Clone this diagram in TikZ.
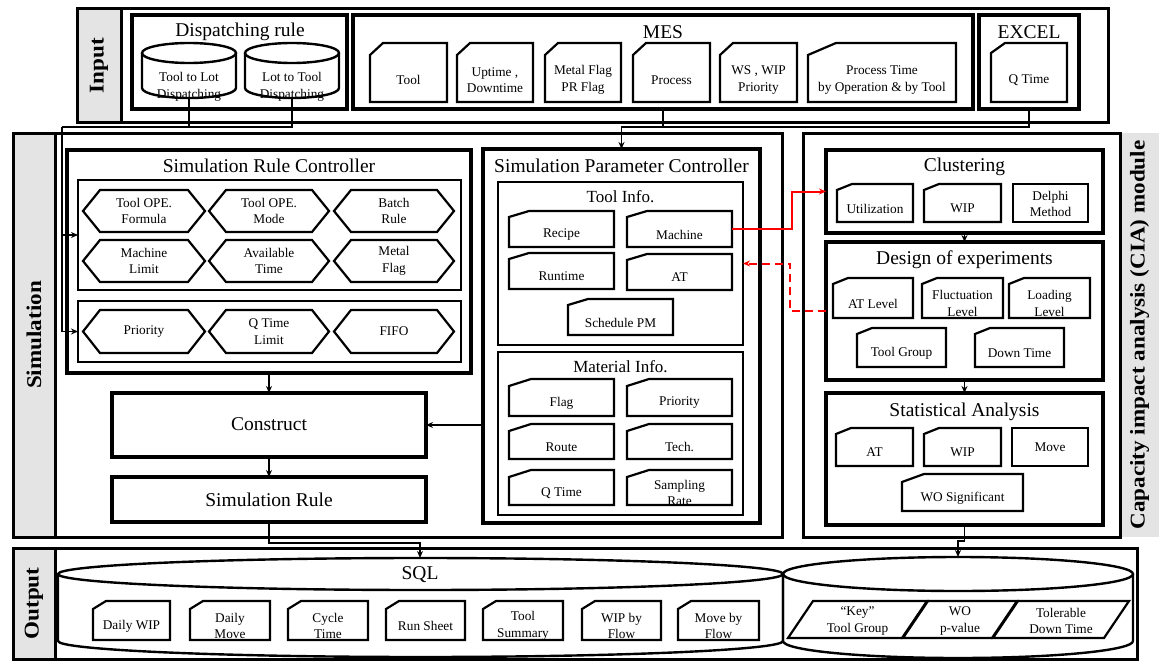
\documentclass[tikz,border=0pt]{standalone}
\usepackage{fontspec}
\setmainfont{Liberation Serif}
\usetikzlibrary{fit,arrows.meta,calc}
\definecolor{labgray}{HTML}{E4E4E4}
\definecolor{diagred}{HTML}{FF0000}
\makeatletter
\pgfkeys{/pgf/cardcutx/.initial=10pt, /pgf/cardcuty/.initial=6pt,
  /pgf/hexdepth/.initial=17pt, /pgf/paraslant/.initial=25pt}
\def\myrectanchors{%
  \inheritsavedanchors[from=rectangle]%
  \inheritanchorborder[from=rectangle]%
  \inheritanchor[from=rectangle]{center}%
  \inheritanchor[from=rectangle]{text}%
  \inheritanchor[from=rectangle]{base}%
  \inheritanchor[from=rectangle]{mid}%
  \inheritanchor[from=rectangle]{north}%
  \inheritanchor[from=rectangle]{south}%
  \inheritanchor[from=rectangle]{east}%
  \inheritanchor[from=rectangle]{west}%
  \inheritanchor[from=rectangle]{north east}%
  \inheritanchor[from=rectangle]{north west}%
  \inheritanchor[from=rectangle]{south east}%
  \inheritanchor[from=rectangle]{south west}}
\pgfdeclareshape{cardshape}{%
  \myrectanchors
  \backgroundpath{%
    \pgfmathsetlength\pgfutil@tempdima{\pgfkeysvalueof{/pgf/cardcutx}}%
    \pgfmathsetlength\pgfutil@tempdimb{\pgfkeysvalueof{/pgf/cardcuty}}%
    \southwest \pgf@xa=\pgf@x \pgf@ya=\pgf@y
    \northeast \pgf@xb=\pgf@x \pgf@yb=\pgf@y
    \pgf@xc=\pgf@xa \advance\pgf@xc by \pgfutil@tempdima
    \pgf@yc=\pgf@yb \advance\pgf@yc by -\pgfutil@tempdimb
    \pgfpathmoveto{\pgfqpoint{\pgf@xa}{\pgf@yc}}%
    \pgfpathlineto{\pgfqpoint{\pgf@xc}{\pgf@yb}}%
    \pgfpathlineto{\pgfqpoint{\pgf@xb}{\pgf@yb}}%
    \pgfpathlineto{\pgfqpoint{\pgf@xb}{\pgf@ya}}%
    \pgfpathlineto{\pgfqpoint{\pgf@xa}{\pgf@ya}}%
    \pgfpathclose}}
\pgfdeclareshape{hexshape}{%
  \myrectanchors
  \backgroundpath{%
    \pgfmathsetlength\pgfutil@tempdima{\pgfkeysvalueof{/pgf/hexdepth}}%
    \southwest \pgf@xa=\pgf@x \pgf@ya=\pgf@y
    \northeast \pgf@xb=\pgf@x \pgf@yb=\pgf@y
    \pgf@xc=\pgf@xa \advance\pgf@xc by \pgfutil@tempdima
    \pgfutil@tempdimb=\pgf@xb \advance\pgfutil@tempdimb by -\pgfutil@tempdima
    \pgf@yc=\pgf@ya \advance\pgf@yc by \pgf@yb \divide\pgf@yc by 2
    \pgfpathmoveto{\pgfqpoint{\pgf@xa}{\pgf@yc}}%
    \pgfpathlineto{\pgfqpoint{\pgf@xc}{\pgf@yb}}%
    \pgfpathlineto{\pgfqpoint{\pgfutil@tempdimb}{\pgf@yb}}%
    \pgfpathlineto{\pgfqpoint{\pgf@xb}{\pgf@yc}}%
    \pgfpathlineto{\pgfqpoint{\pgfutil@tempdimb}{\pgf@ya}}%
    \pgfpathlineto{\pgfqpoint{\pgf@xc}{\pgf@ya}}%
    \pgfpathclose}}
\pgfdeclareshape{parashape}{%
  \myrectanchors
  \backgroundpath{%
    \pgfmathsetlength\pgfutil@tempdima{\pgfkeysvalueof{/pgf/paraslant}}%
    \southwest \pgf@xa=\pgf@x \pgf@ya=\pgf@y
    \northeast \pgf@xb=\pgf@x \pgf@yb=\pgf@y
    \pgf@xc=\pgf@xa \advance\pgf@xc by \pgfutil@tempdima
    \pgfutil@tempdimb=\pgf@xb \advance\pgfutil@tempdimb by -\pgfutil@tempdima
    \pgfpathmoveto{\pgfqpoint{\pgf@xa}{\pgf@ya}}%
    \pgfpathlineto{\pgfqpoint{\pgf@xc}{\pgf@yb}}%
    \pgfpathlineto{\pgfqpoint{\pgf@xb}{\pgf@yb}}%
    \pgfpathlineto{\pgfqpoint{\pgfutil@tempdimb}{\pgf@ya}}%
    \pgfpathclose}}
\makeatother
\newcommand{\dbcyl}[3]{%
  \draw[cylline] ([yshift=-#3pt]#1.north west) -- ([yshift=#3pt]#1.south west)
    arc[start angle=180,end angle=0,x radius=#2,y radius=#3] -- ([yshift=-#3pt]#1.north east);
  \draw[cylline] ([yshift=-#3pt]#1.north) ellipse[x radius=#2,y radius=#3];}
\begin{document}
\begin{tikzpicture}[x=1pt,y=-1pt,
  base/.style={inner sep=0pt, outer sep=0pt},
  frame/.style={base, draw, line width=3pt},
  graylab/.style={base, draw, line width=3pt, fill=labgray},
  vlab/.style={rotate=90, xscale=1.1, font=\fontsize{21}{22}\selectfont\bfseries},
  grp/.style={base, draw, line width=3.5pt},
  inbox/.style={base, draw, line width=2.2pt},
  title/.style={base, font=\fontsize{19.5}{21}\selectfont},
  subtitle/.style={base, font=\fontsize{17}{19}\selectfont},
  bigtxt/.style={font=\fontsize{19.5}{21}\selectfont},
  txt/.style={font=\fontsize{13.3}{16.5}\selectfont, align=center},
  card/.style 2 args={base, draw, line width=2.2pt, shape=cardshape, cardcutx=#1, cardcuty=#2},
  cardlbl/.style={txt, yshift=-5.5pt},
  inlbl/.style={txt, yshift=-7.5pt},
  hexa/.style={base, draw, line width=2.2pt, shape=hexshape, hexdepth=17pt},
  plain/.style={base, draw, line width=2.2pt},
  para/.style={base, draw, line width=2.2pt, shape=parashape, paraslant=25pt},
  cylline/.style={line width=2.4pt},
  conn/.style={line width=1.4pt},
  arr/.style={-{Stealth[length=7pt,width=6pt]}},
  redl/.style={line width=2pt, draw=diagred},
  reddash/.style={redl, dash pattern=on 8pt off 5pt}
]
\useasboundingbox (0,0) rectangle (1161,661);

% ---------------- Input ----------------
\node[graylab, fit={(77,9)(121,122)}, label={[vlab]center:{Input}}] (inlab) {};
\node[frame, fit={(77,9)(1108,122)}] (inframe) {};

\node[grp, fit={(132,15)(347,109)}] (disp) {};
\node[title] (disptitle) at (240,32) {Dispatching rule};
\node[base, fit={(142,43)(236,98)}, label={[txt,yshift=-16.5pt]center:{Tool to Lot\\Dispatching}}] (cyl1) {};
\dbcyl{cyl1}{47}{10}
\node[base, fit={(245,43)(339,98)}, label={[txt,yshift=-16.5pt]center:{Lot to Tool\\Dispatching}}] (cyl2) {};
\dbcyl{cyl2}{47}{10}

\node[grp, fit={(353,15)(973,109)}] (mes) {};
\node[title] (mestitle) at (663,32) {MES};
\node[card={13pt}{12pt}, fit={(370,43)(447,102)}, label={[inlbl]center:{Tool}}] (itool) {};
\node[card={13pt}{12pt}, fit={(457,43)(533,102)}, label={[inlbl]center:{Uptime ,\\Downtime}}] (iup) {};
\node[card={13pt}{12pt}, fit={(545,43)(621,102)}, label={[inlbl]center:{Metal Flag\\PR Flag}}] (imetal) {};
\node[card={13pt}{12pt}, fit={(633,43)(710,102)}, label={[inlbl]center:{Process}}] (iproc) {};
\node[card={13pt}{12pt}, fit={(720,43)(797,102)}, label={[inlbl]center:{WS , WIP\\Priority}}] (iws) {};
\node[card={28pt}{12pt}, fit={(808,43)(956,102)}, label={[inlbl]center:{Process Time\\by Operation \& by Tool}}] (iptime) {};

\node[grp, fit={(979,15)(1079,109)}] (excel) {};
\node[title] (exceltitle) at (1029,32) {EXCEL};
\node[card={14pt}{10pt}, fit={(991,43)(1067,102)}, label={[inlbl]center:{Q Time}}] (iqtime) {};

% ---------------- Simulation ----------------
\node[graylab, fit={(13,133)(55,537)}, label={[vlab]center:{Simulation}}] (simlab) {};
\node[frame, fit={(13,133)(782,537)}] (simframe) {};

\node[grp, fit={(67,150)(471,373)}] (src) {};
\node[title] (srctitle) at (269,166) {Simulation Rule Controller};
\node[inbox, fit={(78,180)(461,290)}] (srcA) {};
\node[inbox, fit={(78,301)(461,362)}] (srcB) {};
\node[hexa, fit={(83,190)(205,232)}, label={[txt]center:{Tool OPE.\\Formula}}] (h1) {};
\node[hexa, fit={(209,190)(329,232)}, label={[txt]center:{Tool OPE.\\Mode}}] (h2) {};
\node[hexa, fit={(334,190)(454,232)}, label={[txt]center:{Batch\\Rule}}] (h3) {};
\node[hexa, fit={(83,240)(205,282)}, label={[txt]center:{Machine\\Limit}}] (h4) {};
\node[hexa, fit={(209,240)(329,282)}, label={[txt]center:{Available\\Time}}] (h5) {};
\node[hexa, fit={(334,240)(454,282)}, label={[txt]center:{Metal\\Flag}}] (h6) {};
\node[hexa, fit={(83,310)(205,353)}, label={[txt]center:{Priority}}] (h7) {};
\node[hexa, fit={(209,310)(329,353)}, label={[txt]center:{Q Time\\Limit}}] (h8) {};
\node[hexa, fit={(334,310)(454,353)}, label={[txt]center:{FIFO}}] (h9) {};

\node[grp, fit={(112,393)(426,457)}, label={[bigtxt,yshift=1pt]center:{Construct}}] (construct) {};
\node[grp, fit={(112,477)(426,522)}, label={[bigtxt]center:{Simulation Rule}}] (simrule) {};

\node[grp, fit={(483,149)(760,523)}] (spc) {};
\node[title] (spctitle) at (621.5,166) {Simulation Parameter Controller};
\node[inbox, fit={(498,182)(743,345)}] (toolinfo) {};
\node[subtitle] (toolinfotitle) at (620.5,197) {Tool Info.};
\node[card={20pt}{6pt}, fit={(509,211)(614,247)}, label={[cardlbl]center:{Recipe}}] (recipe) {};
\node[card={20pt}{6pt}, fit={(627,211)(732,247)}, label={[cardlbl]center:{Machine}}] (machine) {};
\node[card={20pt}{6pt}, fit={(509,253)(614,289)}, label={[cardlbl]center:{Runtime}}] (runtime) {};
\node[card={20pt}{6pt}, fit={(627,254)(732,290)}, label={[cardlbl]center:{AT}}] (atool) {};
\node[card={20pt}{6pt}, fit={(568,299)(673,335)}, label={[cardlbl]center:{Schedule PM}}] (sched) {};
\node[inbox, fit={(498,352)(743,515)}] (matinfo) {};
\node[subtitle] (matinfotitle) at (620.5,367) {Material Info.};
\node[card={22pt}{7pt}, fit={(509,379)(614,416)}, label={[cardlbl]center:{Flag}}] (mflag) {};
\node[card={22pt}{7pt}, fit={(627,379)(732,416)}, label={[cardlbl]center:{Priority}}] (mprio) {};
\node[card={22pt}{7pt}, fit={(509,424)(614,459)}, label={[cardlbl]center:{Route}}] (mroute) {};
\node[card={22pt}{7pt}, fit={(627,424)(732,459)}, label={[cardlbl]center:{Tech.}}] (mtech) {};
\node[card={22pt}{7pt}, fit={(509,470)(614,505)}, label={[cardlbl]center:{Q Time}}] (mqtime) {};
\node[card={22pt}{7pt}, fit={(627,470)(732,505)}, label={[cardlbl]center:{Sampling\\Rate}}] (msamp) {};

% ---------------- CIA module ----------------
\node[base, fill=labgray, fit={(1120,133)(1159,537)}, label={[vlab]center:{Capacity impact analysis (CIA) module}}] (cialab) {};
\node[frame, fit={(803,133)(1120,537)}] (ciaframe) {};

\node[grp, fit={(826,150)(1103,233)}] (clus) {};
\node[title] (clustitle) at (964.5,167) {Clustering};
\node[card={15pt}{6pt}, fit={(837,184)(913,222)}, label={[cardlbl]center:{Utilization}}] (cutil) {};
\node[card={15pt}{6pt}, fit={(924,184)(1001,222)}, label={[cardlbl]center:{WIP}}] (cwip) {};
\node[plain, fit={(1013,184)(1088,222)}, label={[txt,yshift=-1pt]center:{Delphi\\Method}}] (cdelphi) {};

\node[grp, fit={(826,242)(1103,380)}] (doe) {};
\node[title] (doetitle) at (964.5,260) {Design of experiments};
\node[card={15pt}{6pt}, fit={(833,278)(913,318)}, label={[cardlbl]center:{AT Level}}] (datl) {};
\node[card={15pt}{6pt}, fit={(922,278)(1003,318)}, label={[cardlbl]center:{Fluctuation\\Level}}] (dfluc) {};
\node[card={15pt}{6pt}, fit={(1009,278)(1090,318)}, label={[cardlbl]center:{Loading\\Level}}] (dload) {};
\node[card={15pt}{6pt}, fit={(857,328)(946,367)}, label={[cardlbl]center:{Tool Group}}] (dtg) {};
\node[card={15pt}{6pt}, fit={(975,328)(1064,367)}, label={[cardlbl]center:{Down Time}}] (ddown) {};

\node[grp, fit={(826,393)(1103,525)}] (sa) {};
\node[title] (satitle) at (964.5,412) {Statistical Analysis};
\node[card={15pt}{6pt}, fit={(836,428)(913,466)}, label={[cardlbl]center:{AT}}] (sat) {};
\node[card={15pt}{6pt}, fit={(924,428)(1001,466)}, label={[cardlbl]center:{WIP}}] (swip) {};
\node[plain, fit={(1012,428)(1088,466)}, label={[txt]center:{Move}}] (smove) {};
\node[card={22pt}{8pt}, fit={(902,474)(1023,511)}, label={[cardlbl]center:{WO Significant}}] (swo) {};

% ---------------- Output ----------------
\node[graylab, fit={(13,548)(55,659)}, label={[vlab]center:{Output}}] (outlab) {};
\node[frame, fit={(13,548)(1137,659)}] (outframe) {};
\node[base, fit={(58,558)(783,657)}] (sql) {};
\dbcyl{sql}{362.5}{16}
\node[base, font=\fontsize{19.5}{21}\selectfont] (sqltitle) at (420,575) {SQL};
\node[base, fit={(783,557)(1133,658)}] (res) {};
\dbcyl{res}{175}{17}

\node[card={13pt}{8pt}, fit={(93,601)(170,640)}, label={[cardlbl]center:{Daily WIP}}] (odwip) {};
\node[card={13pt}{8pt}, fit={(190,601)(270,640)}, label={[cardlbl]center:{Daily\\Move}}] (odmove) {};
\node[card={13pt}{8pt}, fit={(288,601)(368,640)}, label={[cardlbl]center:{Cycle\\Time}}] (octime) {};
\node[card={13pt}{8pt}, fit={(386,601)(465,640)}, label={[cardlbl]center:{Run Sheet}}] (orun) {};
\node[card={13pt}{8pt}, fit={(483,601)(563,640)}, label={[cardlbl]center:{Tool\\Summary}}] (otsum) {};
\node[card={13pt}{8pt}, fit={(582,601)(661,640)}, label={[cardlbl]center:{WIP by\\Flow}}] (owipf) {};
\node[card={13pt}{8pt}, fit={(678,601)(759,640)}, label={[cardlbl]center:{Move by\\Flow}}] (omovef) {};

\node[para, fit={(788,601)(927,638)}, label={[txt,yshift=-1.5pt]center:{“Key”\\Tool Group}}] (okey) {};
\node[para, fit={(903,601)(1017,638)}, label={[txt,yshift=-1.5pt]center:{WO\\p-value}}] (owo) {};
\node[para, fit={(993,601)(1129,638)}, label={[txt,yshift=-1.5pt]center:{Tolerable\\Down Time}}] (otol) {};

% ---------------- Connectors ----------------
\coordinate (j1) at (62,127);
\coordinate (j2) at (621.5,127);
\coordinate (j3) at (420,543);
\coordinate (j4) at (964.5,541);
\coordinate (j5) at (958,541);
\coordinate (r1) at (792,200);
\coordinate (r2) at (790,290);

\draw[conn] (cyl1.south) |- (j1);
\draw[conn] (cyl2.south) |- (j1);
\draw[conn,arr] (j1) |- (srcA.west);
\draw[conn,arr] (j1) |- (srcB.west);

\draw[conn,arr] (mes.south) |- (j2) -- (spc.north);
\draw[conn] (excel.south) |- (j2);

\draw[conn,arr] (src.south) -- (construct.north);
\draw[conn,arr] (construct.south) -- (simrule.north);
\draw[conn,arr] (spc.west |- construct.east) -- (construct.east);
\draw[conn,arr] (simrule.south) |- (j3) -- (j3 |- sql.north);

\draw[conn,arr] (clus.south) -- (doe.north);
\draw[conn,arr] (doe.south) -- (sa.north);
\draw[conn,arr] (sa.south) -- (j4) -- (j5) -- (j5 |- res.north);

\draw[redl,arr] (machine.east) -- (machine.east -| r1) |- (clus.west);
\draw[reddash,arr] (doe.west) -- (doe.west -| r2) |- (toolinfo.east);
\end{tikzpicture}
\end{document}
